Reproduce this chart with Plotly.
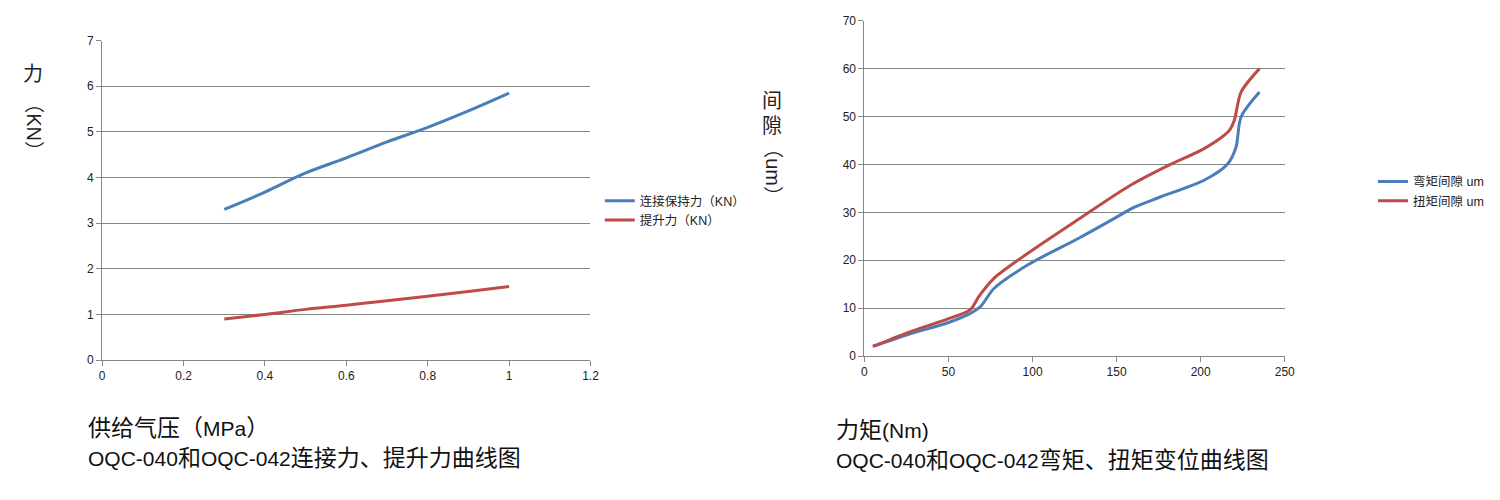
# OQC-040 / OQC-042 force and torque curves
import plotly.graph_objects as go

# Left chart: supply pressure vs force
pressure_mpa = [0.3, 0.4, 0.5, 0.6, 0.7, 0.8, 0.9, 1.0]
hold_force_kn = [3.3, 3.68, 4.1, 4.43, 4.78, 5.1, 5.46, 5.85]
lift_force_kn = [0.9, 1.0, 1.11, 1.2, 1.3, 1.4, 1.5, 1.61]

# Right chart: torque vs gap
bend_torque = [5, 25, 50, 63, 69, 77, 97, 128, 150, 160, 176, 202, 216, 221, 224, 235]
bend_gap = [2.0, 4.4, 7.0, 8.9, 10.3, 14.1, 19.0, 24.7, 29.0, 31.0, 33.2, 36.7, 40.1, 43.6, 49.9, 55.1]
twist_torque = [5, 25, 50, 63, 68, 77, 97, 128, 158, 182, 202, 217, 220, 224, 235]
twist_gap = [2.0, 4.8, 7.8, 9.7, 12.4, 16.2, 21.4, 28.7, 35.6, 40.0, 43.3, 47.1, 49.2, 55.1, 60.0]

BLUE = "#4a7ebb"
RED = "#be4b48"
FONT = "Liberation Sans, Noto Sans CJK SC, sans-serif"

# the page body keeps its default 8px margin, so the figure is 16px smaller than the window
W, H, PAD = 1484, 484, 8


def px(x):
    return (x - PAD) / W


def py(y):
    return 1 - (y - PAD) / H


def cjk(s):
    # CJK glyphs in the original are set a bit larger than the latin text
    return f"<span style='font-size:23px'>{s}</span>"


fig = go.Figure()
fig.add_trace(go.Scatter(x=pressure_mpa, y=hold_force_kn, mode="lines", name="连接保持力（KN）",
                         line=dict(color=BLUE, width=3, shape="spline"), xaxis="x", yaxis="y", legend="legend"))
fig.add_trace(go.Scatter(x=pressure_mpa, y=lift_force_kn, mode="lines", name="提升力（KN）",
                         line=dict(color=RED, width=3, shape="spline"), xaxis="x", yaxis="y", legend="legend"))
fig.add_trace(go.Scatter(x=bend_torque, y=bend_gap, mode="lines", name="弯矩间隙 um",
                         line=dict(color=BLUE, width=3, shape="spline", smoothing=0.8), xaxis="x2", yaxis="y2", legend="legend2"))
fig.add_trace(go.Scatter(x=twist_torque, y=twist_gap, mode="lines", name="扭矩间隙 um",
                         line=dict(color=RED, width=3, shape="spline", smoothing=0.8), xaxis="x2", yaxis="y2", legend="legend2"))

axis_common = dict(showline=True, linecolor="#868686", linewidth=1, ticks="outside", ticklen=5,
                   tickcolor="#868686", tickfont=dict(size=12, color="#222"), zeroline=False)

fig.update_layout(
    width=W, height=H,
    margin=dict(l=0, r=0, t=0, b=0),
    plot_bgcolor="white", paper_bgcolor="white",
    font=dict(family=FONT, color="#222"),
    xaxis=dict(domain=[px(100), px(592.6)], range=[0, 1.2], dtick=0.2, showgrid=False, anchor="y", **axis_common),
    yaxis=dict(domain=[py(363.3), py(34.4)], range=[0, 7], dtick=1, showgrid=True, gridcolor="#868686", anchor="x", **axis_common),
    xaxis2=dict(domain=[px(869), px(1293)], range=[0, 250], dtick=50, showgrid=False, anchor="y2", **axis_common),
    yaxis2=dict(domain=[py(359.2), py(13.9)], range=[0, 70], dtick=10, showgrid=True, gridcolor="#868686", anchor="x2", **axis_common),
    legend=dict(x=px(602), y=py(209.5), xanchor="left", yanchor="middle", font=dict(size=12.5, color="#222"),
                bgcolor="rgba(0,0,0,0)", tracegroupgap=0),
    legend2=dict(x=px(1382), y=py(189.6), xanchor="left", yanchor="middle", font=dict(size=12.5, color="#222"),
                 bgcolor="rgba(0,0,0,0)", tracegroupgap=0),
    showlegend=True,
)

ann = [
    # left y title (vertical text)
    dict(text="力", x=30.5, y=68.3, textangle=0),
    dict(text="（KN）", x=30.5, y=123.8, textangle=90),
    # right y title
    dict(text="间", x=776, y=96.1, textangle=0),
    dict(text="隙", x=776, y=121.8, textangle=0),
    dict(text="（um）", x=776, y=170.1, textangle=90),
]
for a in ann:
    fig.add_annotation(text=a["text"], x=px(a["x"]), y=py(a["y"]), xref="paper", yref="paper",
                       showarrow=False, textangle=a["textangle"], font=dict(size=20, color="#222"),
                       xanchor="center", yanchor="middle")

captions = [
    (cjk("供给气压（") + "MPa" + cjk("）"), 84, 433),
    ("OQC-040" + cjk("和") + "OQC-042" + cjk("连接力、提升力曲线图"), 84, 464),
    (cjk("力矩") + "(Nm)", 838, 435),
    ("OQC-040" + cjk("和") + "OQC-042" + cjk("弯矩、扭矩变位曲线图"), 838, 466),
]
for text, cx, cy in captions:
    fig.add_annotation(text=text, x=px(cx), y=py(cy), xref="paper", yref="paper",
                       showarrow=False, font=dict(size=21, color="#111"), xanchor="left", yanchor="middle")

fig.write_html("out.html", config={"displayModeBar": False})
